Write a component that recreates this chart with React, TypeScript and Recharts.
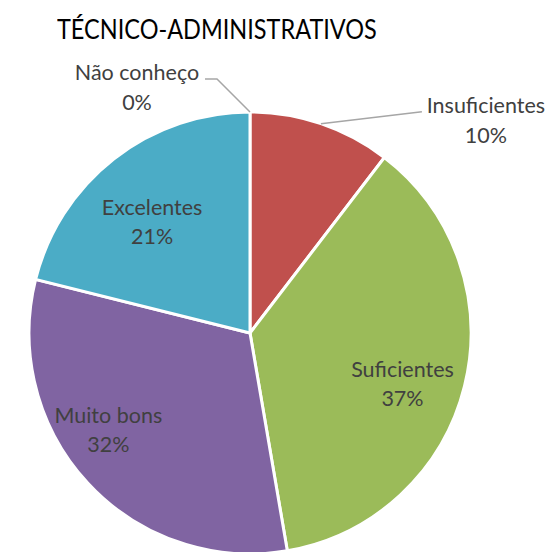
import { PieChart, Pie, Cell } from 'recharts';

const categories = ['Insuficientes', 'Suficientes', 'Muito bons', 'Excelentes', 'Não conheço'];
const shares = [10.4, 36.9, 31.6, 21.1, 0];
const colors = ['#C0504D', '#9BBB59', '#8064A2', '#4BACC6', '#A5A5A5'];

const data = categories.map((name, i) => ({ name, value: shares[i] }));

const RAD = Math.PI / 180;
const FONT = 'Lato, "Open Sans", sans-serif';

// leader-line labels for the thin slices: bend relative to arc point, tail, text centre offset
const outside: Record<string, { bend: [number, number]; tail: number; tx: number }> = {
  Insuficientes: { bend: [101, -12], tail: 0, tx: 64 },
  'Não conheço': { bend: [-33, -33], tail: -12, tx: -68 },
};

// small nudges so inside labels sit where the original put them
const nudge: Record<string, [number, number]> = {
  Suficientes: [-2, 13],
  'Muito bons': [-25, -11],
  Excelentes: [0, 14],
};

function renderLabel(props: any) {
  const { cx, cy, midAngle, outerRadius, percent, name } = props;
  const pct = `${Math.round(percent * 100)}%`;
  const o = outside[name];
  if (o) {
    const x0 = cx + outerRadius * Math.cos(-midAngle * RAD);
    const y0 = cy + outerRadius * Math.sin(-midAngle * RAD);
    const x1 = x0 + o.bend[0];
    const y1 = y0 + o.bend[1];
    const x2 = x1 + o.tail;
    const tx = x2 + o.tx;
    return (
      <g>
        <polyline points={`${x0},${y0} ${x1},${y1} ${x2},${y1}`} fill="none" stroke="#A6A6A6" strokeWidth={1.5} />
        <text x={tx} y={y1 + 1} textAnchor="middle" fill="#404040" fontSize={21.5} fontFamily={FONT}>
          {name}
        </text>
        <text x={tx} y={y1 + 31} textAnchor="middle" fill="#404040" fontSize={21.5} fontFamily={FONT}>
          {pct}
        </text>
      </g>
    );
  }
  const r = outerRadius * 0.72;
  const [dx, dy] = nudge[name] || [0, 0];
  const x = cx + r * Math.cos(-midAngle * RAD) + dx;
  const y = cy + r * Math.sin(-midAngle * RAD) + dy;
  return (
    <g>
      <text x={x} y={y - 7} textAnchor="middle" fill="#404040" fontSize={21.5} fontFamily={FONT}>
        {name}
      </text>
      <text x={x} y={y + 22} textAnchor="middle" fill="#404040" fontSize={21.5} fontFamily={FONT}>
        {pct}
      </text>
    </g>
  );
}

export default function App() {
  return (
    <div style={{ position: 'absolute', left: 0, top: 0, width: 548, height: 552, background: '#fff', overflow: 'hidden' }}>
      <div
        style={{
          position: 'absolute',
          left: 57,
          top: 15,
          fontFamily: FONT,
          fontSize: 27,
          lineHeight: 1,
          color: '#000',
          whiteSpace: 'nowrap',
          transform: 'scaleX(0.87)',
          transformOrigin: 'left top',
        }}
      >
        TÉCNICO-ADMINISTRATIVOS
      </div>
      <PieChart width={548} height={552} margin={{ top: 0, right: 0, bottom: 0, left: 0 }}>
        <Pie
          data={data}
          dataKey="value"
          nameKey="name"
          cx={250}
          cy={333}
          outerRadius={221}
          startAngle={90}
          endAngle={-270}
          stroke="#fff"
          strokeWidth={3}
          label={renderLabel}
          labelLine={false}
          isAnimationActive={false}
        >
          {data.map((d, i) => (
            <Cell key={d.name} fill={colors[i]} />
          ))}
        </Pie>
      </PieChart>
    </div>
  );
}
